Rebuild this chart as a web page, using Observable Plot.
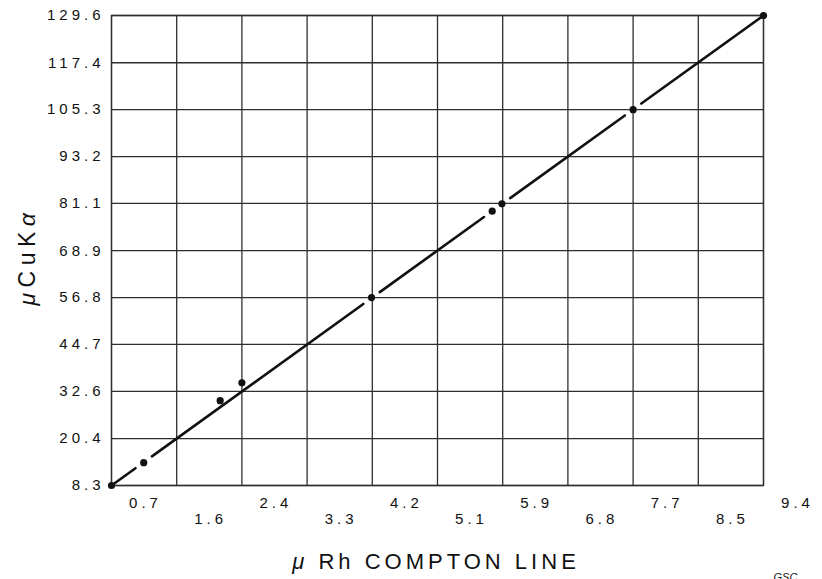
<!DOCTYPE html>
<html>
<head>
<meta charset="utf-8">
<script src="https://cdn.jsdelivr.net/npm/d3@7"></script>
<script src="https://cdn.jsdelivr.net/npm/@observablehq/plot@0.6"></script>
<style>
  body { margin: 0; background: #fff; }
  svg { font-family: "Liberation Sans", Arial, Helvetica, sans-serif; }
  g[aria-label="x-axis tick label"] text,
  g[aria-label="y-axis tick label"] text { letter-spacing: 4px; }
  tspan.greek { font-style: italic; }
</style>
</head>
<body>
<div id="chart"></div>
<script>
// Mass absorption coefficients: Rh Compton line (x) against Cu Kα (y)
const comptonMu = [0.7, 1.13, 2.15, 2.44, 4.17, 5.78, 5.91, 7.66, 9.4];
const cuKaMu    = [8.3, 14.2, 30.2, 34.8, 56.8, 79.1, 81.0, 105.3, 129.6];

// Calibration line through the end points
const fitX = [0.7, 9.4];
const fitY = [8.3, 129.6];

// Grid positions and their printed labels
const xTickValues = [0.7, 1.57, 2.44, 3.31, 4.18, 5.05, 5.92, 6.79, 7.66, 8.53, 9.4];
const xTickLabels = ["0.7", "1.6", "2.4", "3.3", "4.2", "5.1", "5.9", "6.8", "7.7", "8.5", "9.4"];
const yTickValues = [8.3, 20.4, 32.6, 44.7, 56.8, 68.9, 81.1, 93.2, 105.3, 117.4, 129.6];

// Axis titles and corner mark
const yTitle = "μCuKα";
const xTitle = "μ Rh COMPTON LINE";
const cornerMark = "GSC";

const points = comptonMu.map((x, i) => ({x, y: cuKaMu[i]}));
const slope = (fitY[1] - fitY[0]) / (fitX[1] - fitX[0]);
const fit = (x) => fitY[0] + (x - fitX[0]) * slope;

// The calibration line is interrupted around the interior points lying on it
const gapHalf = 0.11;
const cuts = points
  .filter((p) => p.x > fitX[0] && p.x < fitX[1] && Math.abs(p.y - fit(p.x)) < 0.5)
  .map((p) => [p.x - gapHalf, p.x + gapHalf])
  .sort((a, b) => a[0] - b[0]);
const merged = [];
for (const c of cuts) {
  const last = merged[merged.length - 1];
  if (last && c[0] <= last[1]) last[1] = Math.max(last[1], c[1]);
  else merged.push([...c]);
}
const segments = [];
let start = fitX[0];
merged.forEach((c, i) => {
  segments.push({seg: i, x: start, y: fit(start)}, {seg: i, x: c[0], y: fit(c[0])});
  start = c[1];
});
segments.push({seg: merged.length, x: start, y: fit(start)}, {seg: merged.length, x: fitX[1], y: fit(fitX[1])});

const labelOf = new Map(xTickValues.map((v, i) => [v, xTickLabels[i]]));
const upperTicks = xTickValues.filter((_, i) => i % 2 === 0);
const lowerTicks = xTickValues.filter((_, i) => i % 2 === 1);

const gridStyle = {stroke: "#2e2e2e", strokeOpacity: 1, strokeWidth: 1.3};

const chart = Plot.plot({
  width: 822,
  height: 579,
  marginLeft: 111,
  marginRight: 59,
  marginTop: 15,
  marginBottom: 94,
  style: {background: "#fff", color: "#111"},
  x: {domain: fitX, label: null},
  y: {domain: fitY, label: null},
  marks: [
    Plot.gridX(xTickValues, gridStyle),
    Plot.gridY(yTickValues, gridStyle),
    Plot.frame(gridStyle),
    Plot.line(segments, {x: "x", y: "y", z: "seg", stroke: "#111", strokeWidth: 2.6}),
    Plot.dot(points, {x: "x", y: "y", r: 3.6, fill: "#111"}),
    Plot.axisY(yTickValues, {tickSize: 0, tickPadding: 7, fontSize: 15, label: null, tickFormat: (d) => d.toFixed(1)}),
    Plot.axisX(upperTicks, {tickSize: 0, tickPadding: 12, dx: 34, fontSize: 15, label: null, tickFormat: (d) => labelOf.get(d)}),
    Plot.axisX(lowerTicks, {tickSize: 0, tickPadding: 28, dx: 34, fontSize: 15, label: null, tickFormat: (d) => labelOf.get(d)}),
    Plot.text([yTitle], {text: (d) => d, frameAnchor: "left", textAnchor: "middle", dx: -84, dy: 6, rotate: -90, fontSize: 23}),
    Plot.text([xTitle], {text: (d) => d, frameAnchor: "bottom", dx: -1.5, dy: 83, lineAnchor: "bottom", fontSize: 22}),
    Plot.text([cornerMark], {text: (d) => d, frameAnchor: "bottom-right", dx: 10, dy: 95, textAnchor: "start", lineAnchor: "bottom", fontSize: 11, fontStyle: "italic"})
  ]
});

// Track the axis titles out and set their Greek letters in italic
const tracking = new Map([[yTitle, 5.5], [xTitle, 4]]);
d3.select(chart).selectAll("text")
  .filter(function () { return tracking.has(this.textContent); })
  .each(function () {
    const el = d3.select(this);
    const s = el.text();
    el.style("letter-spacing", `${tracking.get(s)}px`).text(null);
    for (const ch of s) {
      el.append("tspan").attr("class", /[μα]/.test(ch) ? "greek" : null).text(ch);
    }
  });

document.getElementById("chart").append(chart);
</script>
</body>
</html>
